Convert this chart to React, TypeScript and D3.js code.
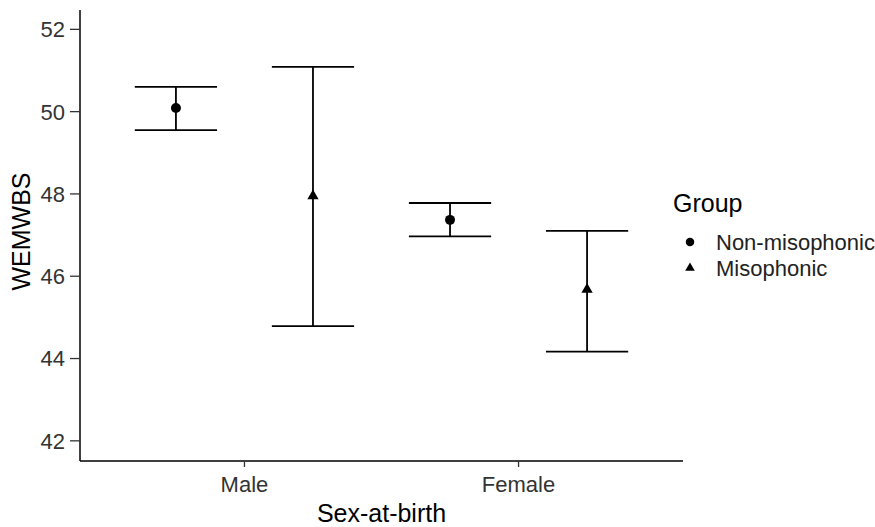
import React from 'react';
import * as d3 from 'd3';

const categories = ['Male', 'Female'];
const groups = ['Non-misophonic', 'Misophonic'];
const meanNon = [50.09, 47.37];
const lowNon = [49.55, 46.97];
const highNon = [50.6, 47.78];
const meanMiso = [47.95, 45.68];
const lowMiso = [44.79, 44.17];
const highMiso = [51.09, 47.1];
const yTicks = [42, 44, 46, 48, 50, 52];

const W = 875;
const H = 527;
const margin = { top: 10, right: 192, bottom: 66, left: 80 };
const font = 'Liberation Sans, Arial, Helvetica, sans-serif';

const App = () => {
  const innerBottom = H - margin.bottom;
  const innerRight = W - margin.right;

  const y = d3.scaleLinear().domain([41.51, 52.47]).range([innerBottom, margin.top]);
  const x = d3.scalePoint<string>().domain(categories).range([margin.left, innerRight]).padding(0.6);
  const step = x.step();
  const dodge = d3.scalePoint<string>().domain(groups).range([-0.25 * step, 0.25 * step]);
  const capHalf = 0.15 * step;

  const rows = [
    { g: groups[0], mean: meanNon, lo: lowNon, hi: highNon },
    { g: groups[1], mean: meanMiso, lo: lowMiso, hi: highMiso }
  ];

  const circlePath = d3.symbol().type(d3.symbolCircle).size(78)();
  const triPath = d3.symbol().type(d3.symbolTriangle).size(55)();
  const shapeOf = (g: string) => (g === groups[0] ? circlePath : triPath);

  return (
    <svg
      width={W}
      height={H}
      style={{ position: 'absolute', left: 0, top: 0, background: '#fff' }}
      fontFamily={font}
    >
      {/* error bars + points */}
      {rows.map(r =>
        categories.map((c, i) => {
          const cx = (x(c) as number) + (dodge(r.g) as number);
          return (
            <g key={r.g + c}>
              <line x1={cx} x2={cx} y1={y(r.lo[i])} y2={y(r.hi[i])} stroke="#000" strokeWidth={1.8} />
              <line x1={cx - capHalf} x2={cx + capHalf} y1={y(r.lo[i])} y2={y(r.lo[i])} stroke="#000" strokeWidth={1.8} />
              <line x1={cx - capHalf} x2={cx + capHalf} y1={y(r.hi[i])} y2={y(r.hi[i])} stroke="#000" strokeWidth={1.8} />
              <path d={shapeOf(r.g) as string} transform={`translate(${cx},${y(r.mean[i])})`} fill="#000" />
            </g>
          );
        })
      )}

      {/* y axis */}
      <line x1={margin.left} x2={margin.left} y1={margin.top} y2={innerBottom} stroke="#000" strokeWidth={1.5} />
      {yTicks.map(t => (
        <g key={t}>
          <line x1={margin.left - 10} x2={margin.left} y1={y(t)} y2={y(t)} stroke="#333" strokeWidth={1.3} />
          <text x={margin.left - 15} y={y(t)} dy="0.36em" textAnchor="end" fontSize={22} fill="#333">
            {t}
          </text>
        </g>
      ))}

      {/* x axis */}
      <line x1={margin.left} x2={innerRight} y1={innerBottom} y2={innerBottom} stroke="#000" strokeWidth={1.5} />
      {categories.map(c => (
        <g key={c}>
          <line x1={x(c)} x2={x(c)} y1={innerBottom} y2={innerBottom + 6} stroke="#333" strokeWidth={1.3} />
          <text x={x(c)} y={492} textAnchor="middle" fontSize={22} fill="#333">
            {c}
          </text>
        </g>
      ))}

      {/* axis titles */}
      <text x={(margin.left + innerRight) / 2} y={522} textAnchor="middle" fontSize={25} fill="#000">
        Sex-at-birth
      </text>
      <text
        transform={`translate(30,${(margin.top + innerBottom) / 2 - 4}) rotate(-90)`}
        textAnchor="middle"
        fontSize={25}
        fill="#000"
      >
        WEMWBS
      </text>

      {/* legend */}
      <text x={673} y={212} fontSize={25} fill="#000">
        Group
      </text>
      {groups.map((g, i) => (
        <g key={g} transform={`translate(690,${242 + i * 26})`}>
          <path d={shapeOf(g) as string} transform="scale(0.85)" fill="#000" />
          <text x={26} y={0} dy="0.36em" fontSize={22} fill="#222">
            {g}
          </text>
        </g>
      ))}
    </svg>
  );
};

export default App;
